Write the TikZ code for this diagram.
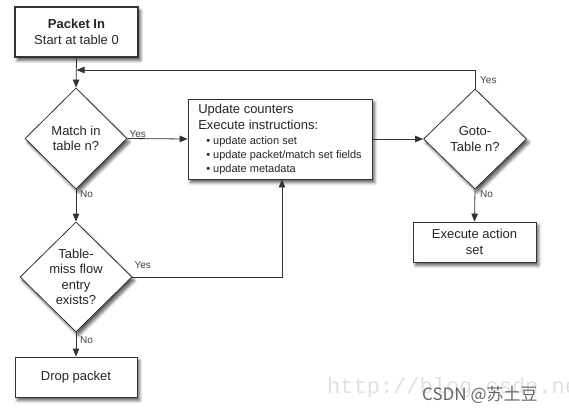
\documentclass[tikz,border=0pt]{standalone}
\usepackage{fontspec}
\setmainfont{Liberation Sans}
\setmonofont{Liberation Mono}
\newfontfamily\cjkfont{Noto Sans CJK SC}
\usetikzlibrary{shapes.geometric,arrows.meta,shadows.blur}

\tikzset{
  shade box/.style={blur shadow={shadow xshift=2.5pt,shadow yshift=-3.5pt,shadow blur steps=6,shadow blur radius=3pt,shadow opacity=65}},
  process/.style={draw=black!80, line width=0.8pt, fill=white, rectangle, inner sep=2pt,
    align=center, text=black!85, font=\fontsize{13}{16}\selectfont, shade box},
  decision/.style={draw=black!80, line width=0.8pt, fill=white, diamond, inner sep=0pt,
    align=center, text=black!85, font=\fontsize{13}{15.5}\selectfont, shade box},
  flow/.style={draw=black!80, line width=0.8pt, -{Triangle[length=8pt,width=6.5pt]}},
  answer/.style={font=\fontsize{10}{12}\selectfont, text=black!75, inner sep=1pt}
}
\newcommand{\stepitem}[1]{{\fontsize{11}{13}\selectfont\hspace{8pt}\textbullet\ #1}}

\begin{document}
\begin{tikzpicture}[x=1pt,y=-1pt]
  \useasboundingbox (0,0) rectangle (569,413);
  \clip (0,0) rectangle (569,413);

  % watermark
  \node[anchor=base west, inner sep=0pt, text=black!12, font=\ttfamily\fontsize{22}{22}\selectfont] (wmurl) at (327,393) {http://blog.csdn.net};

  % boxes
  \node[process, line width=2.6pt, minimum width=123pt, minimum height=50pt] (packet) at (76.5,32)
    {\textbf{Packet In}\\Start at table 0};
  \node[decision, minimum width=102pt, minimum height=101pt] (match) at (76,138.5)
    {Match in\\table n?};
  \node[decision, minimum width=112pt, minimum height=110pt] (miss) at (76,277)
    {Table-\\miss flow\\entry\\exists?};
  \node[process, minimum width=122pt, minimum height=40pt] (drop) at (76,377)
    {Drop packet};
  \node[process, align=left, minimum width=184pt, minimum height=80pt] (update) at (280,139)
    {Update counters\\Execute instructions:\\[-1pt]
     \stepitem{update action set}\\[-2pt]
     \stepitem{update packet/match set fields}\\[-2pt]
     \stepitem{update metadata}};
  \node[decision, minimum width=103pt, minimum height=100pt] (goto) at (475,139)
    {Goto-\\Table n?};
  \node[process, minimum width=123pt, minimum height=40pt] (exec) at (474.5,242)
    {Execute action\\set};

  \coordinate (join) at (76.5,70);

  % connectors
  \draw[flow] (packet.south) -- (match.north);
  \draw[flow] (match.east) -- (update.west);
  \draw[flow] (match.south) -- (miss.north);
  \draw[flow] (miss.east) -| ([xshift=2pt]update.south);
  \draw[flow] (miss.south) -- (drop.north);
  \draw[flow] (update.east) -- (goto.west);
  \draw[flow] (goto.south) -- (exec.north);
  \draw[flow] (goto.north) |- (join);

  % answers
  \node[answer, anchor=south west] (matchyes) at ([xshift=1pt]match.east) {Yes};
  \node[answer, anchor=north west] (matchno) at ([xshift=3pt]match.south) {No};
  \node[answer, anchor=south west] (missyes) at ([xshift=1pt,yshift=7pt]miss.east) {Yes};
  \node[answer, anchor=north west] (missno) at ([xshift=3pt,yshift=-3pt]miss.south) {No};
  \node[answer, anchor=south west] (gotoyes) at ([xshift=4pt,yshift=4pt]goto.north) {Yes};
  \node[answer, anchor=north west] (gotono) at ([xshift=4pt]goto.south) {No};

  % watermark
  \node[anchor=west, inner sep=0pt, text=black!60, font=\cjkfont\fontsize{17}{17}\selectfont] (wmname) at (422,395) {CSDN @苏土豆};
\end{tikzpicture}
\end{document}
